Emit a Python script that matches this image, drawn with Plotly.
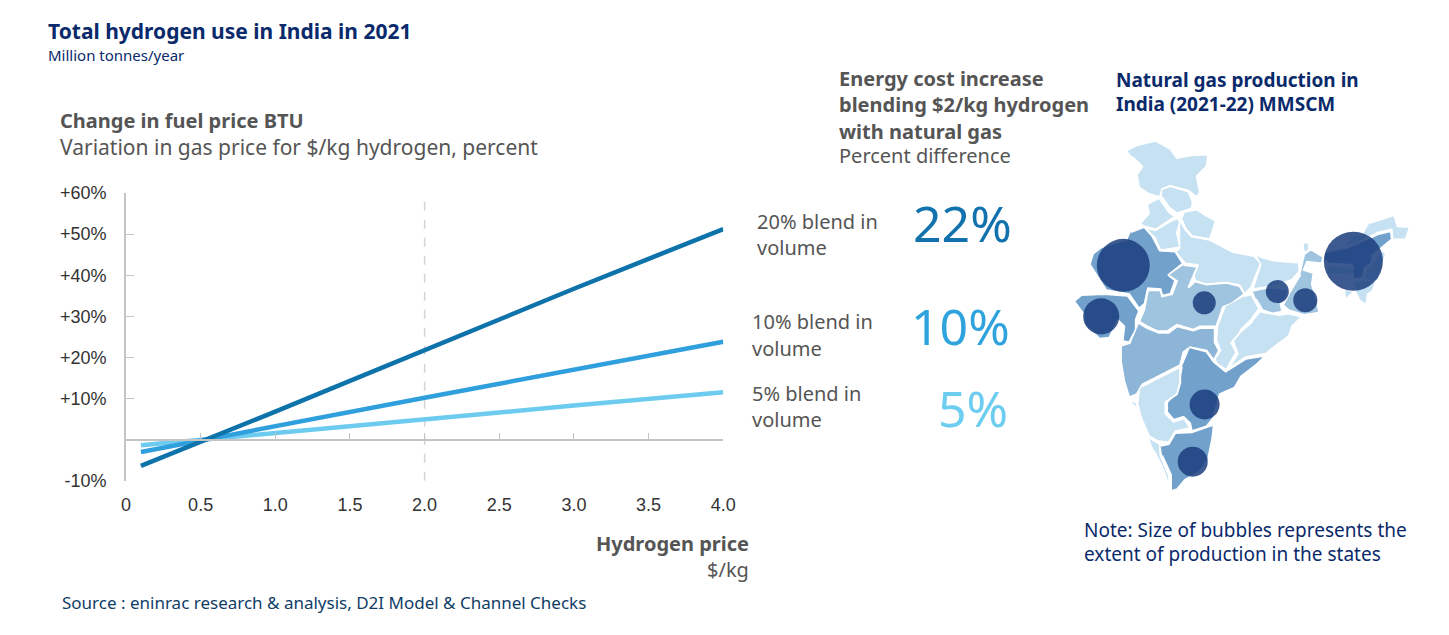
import plotly.graph_objects as go

W, H = 1449, 635

# hydrogen price axis and % change in gas price for each blend
hydrogen_price = [0.1, 0.5, 1.0, 1.5, 2.0, 2.5, 3.0, 3.5, 4.0]
blend_20 = [-6.4, -0.6, 6.8, 14.3, 21.8, 29.2, 36.7, 44.0, 51.2]
blend_10 = [-3.0, -0.2, 3.4, 6.8, 10.2, 13.6, 17.0, 20.4, 23.8]
blend_5 = [-1.4, -0.1, 1.5, 3.2, 4.9, 6.6, 8.3, 9.9, 11.5]

y_ticks = [-10, 10, 20, 30, 40, 50, 60]
y_labels = ["-10%", "+10%", "+20%", "+30%", "+40%", "+50%", "+60%"]
x_ticks = [0, 0.5, 1.0, 1.5, 2.0, 2.5, 3.0, 3.5, 4.0]
x_labels = ["0", "0.5", "1.0", "1.5", "2.0", "2.5", "3.0", "3.5", "4.0"]

# map outlines (map units)
LIGHT, MID, MAHA, STRONG = "#c5e1f2", "#9fc4df", "#8db5d8", "#72a2cc"
jammu_x = [198, 225, 285, 330, 350, 395, 445, 440, 410, 420, 410, 385, 330, 305, 298, 265, 235, 228, 245, 215]
jammu_y = [45, 30, 15, 40, 68, 60, 58, 95, 125, 175, 190, 170, 155, 165, 190, 180, 160, 120, 95, 65]
himachal_x = [305, 330, 385, 398, 395, 370, 350, 325, 305]
himachal_y = [165, 155, 172, 205, 225, 232, 240, 220, 190]
punjab_x = [298, 325, 345, 315, 285, 250, 238, 265, 260]
punjab_y = [195, 235, 250, 270, 290, 280, 272, 240, 215]
uttarakhand_x = [375, 410, 440, 468, 460, 450, 395, 375, 365]
uttarakhand_y = [235, 228, 248, 262, 290, 320, 310, 285, 260]
haryana_x = [258, 285, 320, 350, 360, 350, 360, 325, 300, 280]
haryana_y = [285, 292, 270, 255, 265, 300, 345, 352, 355, 310]
up_x = [360, 375, 395, 450, 520, 585, 605, 590, 575, 555, 540, 500, 440, 405, 400, 412, 375, 345, 360]
up_y = [262, 290, 312, 322, 360, 372, 395, 430, 470, 490, 462, 455, 460, 450, 425, 400, 395, 360, 345]
rajasthan_x = [210, 250, 275, 298, 345, 368, 325, 345, 330, 305, 300, 262, 252, 235, 205, 135, 105, 85, 95, 120, 200]
rajasthan_y = [298, 282, 310, 355, 358, 395, 430, 448, 490, 495, 475, 472, 520, 535, 490, 478, 430, 398, 365, 345, 320]
gujarat_x = [40, 60, 130, 200, 235, 225, 225, 205, 185, 190, 170, 145, 115, 70, 65]
gujarat_y = [510, 493, 490, 495, 542, 570, 600, 640, 635, 590, 570, 625, 628, 585, 545]
mp_x = [370, 412, 385, 405, 440, 500, 540, 555, 515, 490, 470, 420, 400, 350, 320, 290, 260, 235, 250, 262, 300, 305, 335, 350, 325]
mp_y = [400, 405, 470, 450, 460, 455, 465, 490, 520, 530, 590, 590, 600, 585, 605, 605, 590, 575, 540, 478, 478, 497, 490, 450, 432]
maharashtra_x = [235, 260, 295, 325, 350, 400, 420, 465, 465, 478, 462, 440, 390, 370, 360, 320, 285, 245, 228, 205, 190, 180, 180, 210]
maharashtra_y = [580, 595, 610, 610, 590, 603, 595, 595, 640, 665, 695, 665, 655, 670, 710, 730, 750, 770, 800, 810, 760, 700, 650, 640]
andhra_x = [390, 440, 462, 498, 560, 620, 590, 545, 525, 480, 460, 440, 395, 390, 370, 340, 320, 320, 350, 365]
andhra_y = [655, 668, 700, 730, 690, 680, 710, 745, 780, 800, 875, 900, 915, 890, 870, 880, 855, 825, 790, 715]
chhattisgarh_x = [555, 575, 600, 575, 545, 530, 515, 530, 500, 470, 465, 482, 470, 472, 495]
chhattisgarh_y = [497, 490, 535, 570, 600, 635, 640, 670, 725, 705, 690, 665, 635, 590, 530]
odisha_x = [605, 660, 690, 730, 700, 690, 650, 620, 560, 505, 535, 520, 545, 580]
odisha_y = [545, 555, 550, 560, 590, 620, 650, 675, 685, 722, 675, 635, 605, 575]
bihar_x = [590, 605, 640, 680, 720, 722, 700, 650, 580, 595, 605]
bihar_y = [365, 375, 385, 390, 392, 420, 445, 465, 475, 430, 395]
jharkhand_x = [580, 625, 690, 680, 665, 670, 640, 610, 590]
jharkhand_y = [480, 470, 475, 505, 520, 545, 550, 540, 505]
bengal_x = [740, 755, 795, 790, 745, 735, 765, 760, 775, 782, 735, 690, 672, 695, 725]
bengal_y = [365, 350, 375, 395, 390, 415, 425, 460, 510, 548, 555, 540, 525, 480, 430]
sikkim_x = [735, 750, 752, 738]
sikkim_y = [330, 330, 355, 360]
karnataka_x = [245, 285, 320, 360, 360, 350, 315, 315, 340, 372, 390, 345, 325, 290, 265, 240, 230, 235]
karnataka_y = [775, 755, 735, 715, 765, 800, 825, 860, 885, 875, 905, 915, 950, 945, 930, 870, 830, 790]
goa_x = [210, 228, 228]
goa_y = [820, 825, 840]
kerala_x = [265, 298, 300, 325, 330, 305, 280]
kerala_y = [935, 955, 990, 1050, 1095, 1025, 975]
tamil_x = [300, 325, 345, 395, 445, 462, 458, 445, 420, 375, 350, 332, 332, 305]
tamil_y = [960, 955, 920, 918, 900, 895, 935, 1000, 1040, 1065, 1095, 1100, 1050, 990]
arunachal_x = [935, 1010, 1020, 1058, 1045, 1005, 1002, 960, 890, 860, 880, 915]
arunachal_y = [270, 245, 280, 282, 320, 322, 290, 300, 335, 340, 305, 305]
assam_x = [800, 870, 960, 1000, 1003, 970, 945, 940, 920, 915, 885, 880, 810, 800]
assam_y = [360, 345, 305, 295, 320, 350, 370, 395, 410, 440, 445, 400, 395, 385]
meghalaya_x = [808, 885, 880, 810]
meghalaya_y = [400, 405, 430, 430]
nagaland_x = [975, 985, 960, 920, 925, 945]
nagaland_y = [355, 365, 450, 445, 410, 395]
mizoram_x = [860, 885, 890, 915, 955, 945, 930, 925, 905, 890, 865]
mizoram_y = [475, 480, 450, 448, 450, 480, 490, 525, 510, 480, 505]

states = [
    (jammu_x, jammu_y, LIGHT), (himachal_x, himachal_y, LIGHT), (punjab_x, punjab_y, LIGHT),
    (uttarakhand_x, uttarakhand_y, LIGHT), (haryana_x, haryana_y, LIGHT), (up_x, up_y, LIGHT),
    (rajasthan_x, rajasthan_y, STRONG), (gujarat_x, gujarat_y, STRONG), (mp_x, mp_y, MID),
    (maharashtra_x, maharashtra_y, MAHA), (andhra_x, andhra_y, STRONG), (chhattisgarh_x, chhattisgarh_y, LIGHT),
    (odisha_x, odisha_y, LIGHT), (bihar_x, bihar_y, LIGHT), (jharkhand_x, jharkhand_y, MID),
    (bengal_x, bengal_y, MID), (sikkim_x, sikkim_y, LIGHT), (karnataka_x, karnataka_y, LIGHT),
    (goa_x, goa_y, LIGHT), (kerala_x, kerala_y, LIGHT), (tamil_x, tamil_y, STRONG),
    (arunachal_x, arunachal_y, LIGHT), (assam_x, assam_y, STRONG), (meghalaya_x, meghalaya_y, LIGHT),
    (nagaland_x, nagaland_y, LIGHT), (mizoram_x, mizoram_y, LIGHT),
]

# bubbles: Rajasthan, Gujarat, Assam, MP, Jharkhand, Bengal, Andhra, Tamil Nadu
bubble_x = [187, 120, 886, 433, 655, 740, 434, 398]
bubble_y = [401, 559, 388, 517, 482, 509, 832, 1009]
bubble_area = [2810, 1300, 3480, 530, 530, 580, 900, 900]


def px(x):
    return x / W


def py(y):
    return 1 - y / H


fig = go.Figure()

fig.add_trace(go.Scatter(x=[2, 2], y=[-10, 60], mode="lines", showlegend=False,
                         line=dict(color="#d4d4d4", width=1.5, dash="dash")))
for vals, col in [(blend_5, "#6ccbee"), (blend_10, "#2f9fdd"), (blend_20, "#0f73ab")]:
    fig.add_trace(go.Scatter(x=hydrogen_price, y=vals, mode="lines", showlegend=False,
                             line=dict(color=col, width=4.5)))

for sx, sy, col in states:
    fig.add_trace(go.Scatter(x=sx, y=sy, xaxis="x2", yaxis="y2", mode="lines", fill="toself",
                             fillcolor=col, line=dict(color="white", width=2), showlegend=False))
fig.add_trace(go.Scatter(x=bubble_x, y=bubble_y, xaxis="x2", yaxis="y2", mode="markers", showlegend=False,
                         marker=dict(size=bubble_area, sizemode="area", sizeref=2, color="#1a3d7c",
                                     opacity=0.85, line=dict(width=0))))
# carries the axis line along y=0, ticks pointing up
fig.add_trace(go.Scatter(x=[0, 4], y=[0, 0], xaxis="x3", mode="lines", showlegend=False,
                         line=dict(color="rgba(0,0,0,0)", width=0)))

notes = [
    ("Total hydrogen use in India in 2021", 42, 22, "left", 21, "#0a2a6b", True),
    ("Million tonnes/year", 42, 46, "left", 15, "#0a2a6b", False),
    ("Change in fuel price BTU", 54, 114, "left", 20, "#555555", True),
    ("Variation in gas price for $/kg hydrogen, percent", 54, 141, "left", 21, "#555555", False),
    ("Hydrogen price", 755, 551, "right", 20, "#555555", True),
    ("$/kg", 755, 578, "right", 20, "#555555", False),
    ("Source : eninrac research & analysis, D2I Model & Channel Checks", 56, 612, "left", 17, "#0f3d66", False),
    ("20% blend in", 759, 218, "left", 20, "#555555", False),
    ("volume", 759, 245, "left", 20, "#555555", False),
    ("10% blend in", 754, 322, "left", 20, "#555555", False),
    ("volume", 754, 349, "left", 20, "#555555", False),
    ("5% blend in", 754, 396, "left", 20, "#555555", False),
    ("volume", 754, 423, "left", 20, "#555555", False),
    ("22%", 1022, 220, "right", 50, "#1272ae", False),
    ("10%", 1020, 326, "right", 50, "#2fa3dd", False),
    ("5%", 1018, 411, "right", 50, "#6ccdf0", False),
    ("Energy cost increase", 842, 71, "left", 20, "#555555", True),
    ("blending $2/kg hydrogen", 842, 98, "left", 20, "#555555", True),
    ("with natural gas", 842, 125, "left", 20, "#555555", True),
    ("Percent difference", 842, 150, "left", 20, "#555555", False),
    ("Natural gas production in", 1123, 72, "left", 19, "#0a2a6b", True),
    ("India (2021-22) MMSCM", 1123, 97, "left", 19, "#0a2a6b", True),
    ("Note: Size of bubbles represents the", 1091, 537, "left", 19, "#0a2a6b", False),
    ("extent of production in the states", 1091, 562, "left", 19, "#0a2a6b", False),
]
annotations = []
for text, x, y, anchor, size, col, bold in notes:
    annotations.append(dict(text=f"<b>{text}</b>" if bold else text, x=px(x), y=py(y), xref="paper", yref="paper",
                            xanchor=anchor, yanchor="middle", showarrow=False,
                            font=dict(family="Noto Sans", size=size, color=col)))

fig.update_layout(
    width=W, height=H, margin=dict(l=0, r=0, t=0, b=0),
    paper_bgcolor="white", plot_bgcolor="white", showlegend=False,
    annotations=annotations,
    xaxis=dict(domain=[px(122.5), px(727.3)], range=[0, 4], showgrid=False, zeroline=False, showline=False,
               tickvals=x_ticks, ticktext=x_labels, ticks="outside", ticklen=8, tickcolor="rgba(0,0,0,0)",
               tickfont=dict(family="Liberation Sans", size=18, color="#333333"), anchor="y"),
    yaxis=dict(domain=[py(486), py(189)], range=[-10, 60], showgrid=False, zeroline=False,
               showline=True, linecolor="#c4c4c4", linewidth=1.5,
               tickvals=y_ticks + [0], ticktext=y_labels + [""], ticks="inside", ticklen=8, tickcolor="#c4c4c4",
               ticklabelstandoff=14, tickfont=dict(family="Liberation Sans", size=18, color="#333333"), anchor="x"),
    xaxis3=dict(overlaying="x", domain=[px(122.5), px(727.3)], range=[0, 4], anchor="free", position=py(444),
                showgrid=False, zeroline=False, showline=True, linecolor="#c4c4c4", linewidth=1.5,
                tickvals=x_ticks, ticks="inside", ticklen=6, tickcolor="#c4c4c4", showticklabels=False),
    xaxis2=dict(domain=[px(1070), px(1440)], range=[0, 1110], visible=False, anchor="y2"),
    yaxis2=dict(domain=[py(510), py(130)], range=[1140, 0], visible=False, anchor="x2"),
)

page_fix = """
document.body.style.margin = '0';
document.documentElement.style.overflow = 'hidden';
Plotly.relayout(document.getElementById('{plot_id}'), {width: 1449, height: 635});
"""
fig.write_html("out.html", config={"displayModeBar": False}, post_script=page_fix)
